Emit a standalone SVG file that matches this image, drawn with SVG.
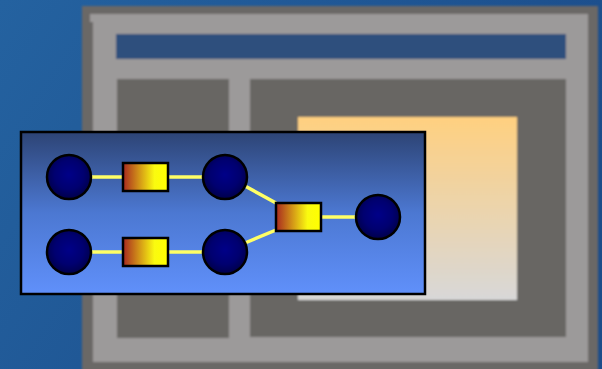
<svg xmlns="http://www.w3.org/2000/svg" width="602" height="369" viewBox="0 0 602 369">
  <style>
    .link { stroke: #ffff66; stroke-width: 3.5; fill: none; }
    .hub { fill: url(#hubFill); stroke: #000; stroke-width: 2.5; }
    .gate { fill: url(#gateFill); stroke: #000; stroke-width: 2.5; }
  </style>
  <defs>
    <linearGradient id="bg" x1="0" y1="0" x2="1" y2="0.4">
      <stop offset="0" stop-color="#2462a0"/>
      <stop offset="1" stop-color="#1b4c8a"/>
    </linearGradient>
    <linearGradient id="peach" x1="0" y1="0" x2="0" y2="1">
      <stop offset="0" stop-color="#ffd080"/>
      <stop offset="1" stop-color="#d8d8d8"/>
    </linearGradient>
    <linearGradient id="panel" x1="0" y1="0" x2="0" y2="1">
      <stop offset="0" stop-color="#2d4475"/>
      <stop offset="0.5" stop-color="#4c78d2"/>
      <stop offset="1" stop-color="#6090fa"/>
    </linearGradient>
    <radialGradient id="hubFill" cx="0.5" cy="0.45" r="0.55">
      <stop offset="0" stop-color="#000088"/>
      <stop offset="0.6" stop-color="#000070"/>
      <stop offset="1" stop-color="#00004a"/>
    </radialGradient>
    <linearGradient id="gateFill" x1="0" y1="0" x2="1" y2="0">
      <stop offset="0" stop-color="#a82820"/>
      <stop offset="0.7" stop-color="#fafa10"/>
      <stop offset="1" stop-color="#ffff00"/>
    </linearGradient>
    <filter id="soft" x="-5%" y="-5%" width="110%" height="110%">
      <feGaussianBlur stdDeviation="0.8"/>
    </filter>
  </defs>

  <!-- backdrop -->
  <rect x="0" y="0" width="602" height="369" fill="url(#bg)"/>

  <!-- application window behind the panel -->
  <g id="window" filter="url(#soft)">
    <rect x="82" y="6" width="516" height="370" fill="#6a6866"/>
    <rect x="90" y="14" width="498" height="348" fill="#9c9a9a"/>
    <rect x="82" y="22" width="11" height="350" fill="#6a6866"/>
    <rect x="116" y="34" width="450" height="25" fill="#2f4f7d"/>
    <rect x="117" y="79" width="112" height="259" fill="#686664"/>
    <rect x="250" y="79" width="316" height="258" fill="#686664"/>
    <rect x="298" y="117" width="219" height="183" fill="url(#peach)"/>
  </g>

  <!-- network panel -->
  <g id="panel-box">
    <rect x="21" y="132" width="404" height="162" fill="url(#panel)" stroke="#000" stroke-width="2.5"/>
  </g>

  <g id="connectors">
    <line class="link" x1="92" y1="177" x2="123" y2="177"/>
    <line class="link" x1="168" y1="177" x2="202" y2="177"/>
    <line class="link" x1="92" y1="252" x2="123" y2="252"/>
    <line class="link" x1="168" y1="252" x2="202" y2="252"/>
    <line class="link" x1="245" y1="186" x2="276" y2="203"/>
    <line class="link" x1="245" y1="243" x2="276" y2="230"/>
    <line class="link" x1="321" y1="217" x2="355" y2="217"/>
  </g>

  <g id="hub-a"><circle class="hub" cx="69" cy="177" r="22"/></g>
  <g id="hub-b"><circle class="hub" cx="69" cy="252" r="22"/></g>
  <g id="hub-c"><circle class="hub" cx="225" cy="177" r="22"/></g>
  <g id="hub-d"><circle class="hub" cx="225" cy="252" r="22"/></g>
  <g id="hub-e"><circle class="hub" cx="378" cy="217" r="22"/></g>

  <g id="gate-a"><rect class="gate" x="123" y="163" width="45" height="28"/></g>
  <g id="gate-b"><rect class="gate" x="123" y="238" width="45" height="28"/></g>
  <g id="gate-c"><rect class="gate" x="276" y="203" width="45" height="28"/></g>
</svg>
